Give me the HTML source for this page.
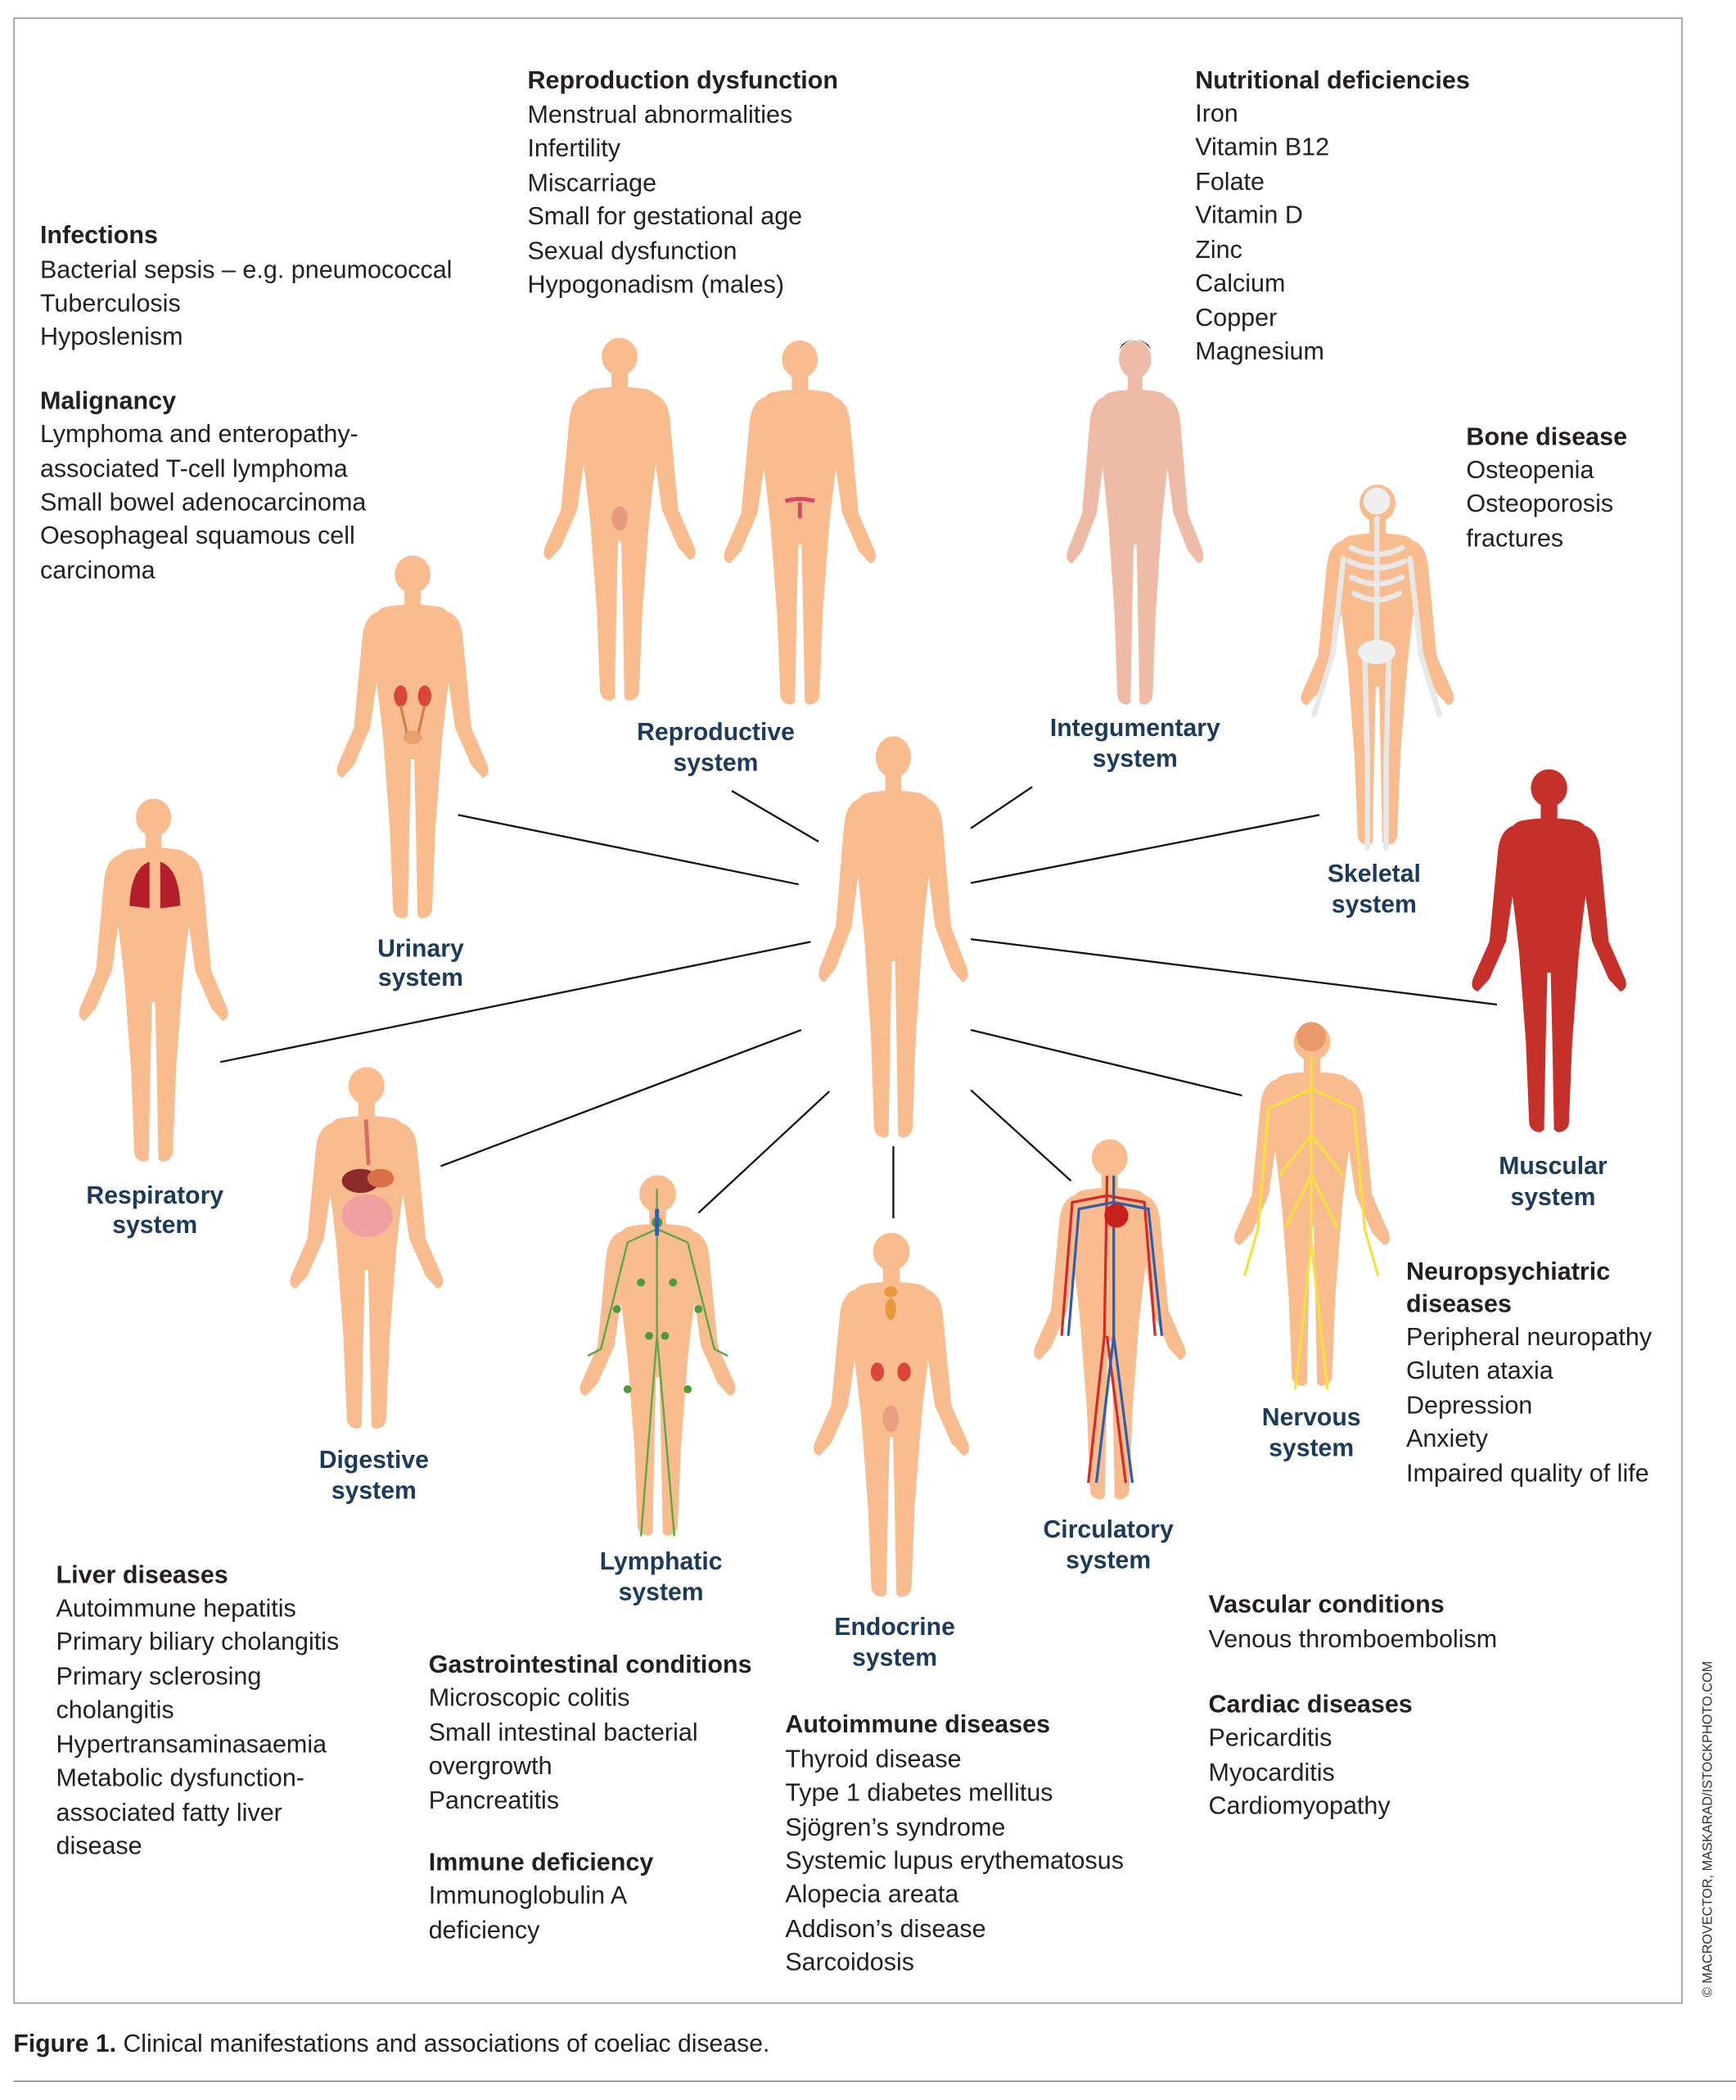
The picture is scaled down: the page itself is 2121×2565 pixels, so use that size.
<!DOCTYPE html>
<html><head><meta charset="utf-8"><style>
html,body{margin:0;padding:0;background:#fff}
svg{display:block}
text{font-family:"Liberation Sans",sans-serif;font-size:18.7px;fill:#231F20}
.h{font-weight:bold}
.l{font-weight:bold;fill:#1B3A5C;text-anchor:middle;font-size:18.5px}
</style></head><body>
<svg width="2121" height="2565" viewBox="0 0 1300 1572" xmlns="http://www.w3.org/2000/svg">
<defs>
<symbol id="h" viewBox="0 0 100 300" preserveAspectRatio="none">
<ellipse cx="50" cy="18" rx="11" ry="15"/>
<rect x="45" y="28" width="10" height="18"/>
<path d="M33,44 Q50,40 67,44 Q74,47 74,58 L72,105 Q70,125 68,150 L64,220 L62,285 Q61,292 55,292 L53,290 L52,220 L51,165 L49,165 L48,220 L47,290 L45,292 Q39,292 38,285 L36,220 L32,150 Q30,125 28,105 L26,58 Q26,47 33,44Z"/>
<path d="M28,48 Q20,52 19,70 L14,140 L4,170 Q2,178 7,180 L14,170 L24,140 L30,85Z"/>
<path d="M72,48 Q80,52 81,70 L86,140 L96,170 Q98,178 93,180 L86,170 L76,140 L70,85Z"/>
</symbol>
</defs>
<rect x="10.5" y="13.5" width="1249" height="1486" fill="none" stroke="#999" stroke-width="1"/>

<g fill="#F9BC8F">
<use href="#h" x="609" y="548" width="120" height="312"/>
<use href="#h" x="248" y="413" width="122" height="282"/>
<use href="#h" x="403" y="250" width="122" height="282"/>
<use href="#h" x="538" y="252" width="122" height="283"/>
<use href="#h" x="970" y="360" width="123" height="280"/>
<use href="#h" x="55" y="595" width="120" height="282"/>
<use href="#h" x="213" y="796" width="123" height="281"/>
<use href="#h" x="430" y="877" width="125" height="280"/>
<use href="#h" x="605" y="920" width="125" height="283"/>
<use href="#h" x="770" y="850" width="122" height="280"/>
<use href="#h" x="920" y="763" width="125" height="282"/>
</g>
<use href="#h" x="795" y="252" width="110" height="283" fill="#EEBCA6"/>
<path d="M838,262 Q850,246 862,262 L860,258 Q850,250 840,258Z" fill="#333"/>
<use href="#h" x="1098" y="573" width="124" height="282" fill="#C6302B"/>
<!-- skeleton -->
<g stroke="#E8E8E8" stroke-width="4" fill="none" stroke-linecap="round">
<circle cx="1031" cy="375" r="10" fill="#F0F0F0" stroke="none"/>
<path d="M1031,388 L1031,480 M1012,410 Q1031,420 1050,410 M1010,420 Q1031,430 1052,420 M1012,432 Q1031,442 1050,432 M1014,444 Q1031,454 1048,444 M1006,418 L998,490 L984,535 M1056,418 L1064,490 L1078,535 M1022,492 L1024,570 L1024,635 M1040,492 L1038,570 L1038,635"/>
<ellipse cx="1031" cy="488" rx="14" ry="9" fill="#F0F0F0" stroke="none"/>
</g>
<!-- lungs -->
<path d="M112,645 Q98,650 97,678 L112,680Z M120,645 Q134,650 135,678 L120,680Z" fill="#B41E2A"/>
<!-- kidneys -->
<g fill="#D9473B"><ellipse cx="300" cy="521" rx="5" ry="8"/><ellipse cx="318" cy="521" rx="5" ry="8"/></g>
<path d="M300,528 L305,550 L313,550 L318,528" stroke="#D08050" fill="none" stroke-width="2"/>
<ellipse cx="309" cy="552" rx="7" ry="5" fill="#E8A070"/>
<!-- reproductive -->
<ellipse cx="464" cy="388" rx="6" ry="9" fill="#E89A80"/>
<path d="M588,375 Q599,372 610,375 M599,376 L599,388" stroke="#D9476A" stroke-width="3" fill="none"/>
<!-- digestive -->
<path d="M274,838 L276,872" stroke="#D96A6A" stroke-width="3"/>
<ellipse cx="270" cy="884" rx="14" ry="9" fill="#8A2A2A"/>
<ellipse cx="285" cy="882" rx="10" ry="7" fill="#D9704A"/>
<ellipse cx="275" cy="910" rx="19" ry="16" fill="#F0A0A0"/>
<!-- lymphatic -->
<g stroke="#5FA84A" stroke-width="1.5" fill="none">
<path d="M492,890 L492,1000 L480,1150 M492,1000 L505,1150 M470,930 L450,1010 L440,1015 M515,930 L535,1010 L545,1015 M492,920 L470,930 M492,920 L515,930"/>
</g>
<g fill="#4E9A3A"><circle cx="492" cy="915" r="4"/><circle cx="480" cy="960" r="3"/><circle cx="504" cy="960" r="3"/><circle cx="486" cy="1000" r="3"/><circle cx="498" cy="1000" r="3"/><circle cx="470" cy="1040" r="3"/><circle cx="515" cy="1040" r="3"/><circle cx="462" cy="980" r="3"/><circle cx="523" cy="980" r="3"/></g>
<path d="M492,905 L492,925" stroke="#2E5FA8" stroke-width="3"/>
<!-- endocrine -->
<g fill="#E89A3A"><ellipse cx="667" cy="967" rx="5" ry="4"/><ellipse cx="667" cy="980" rx="4" ry="8"/></g>
<g fill="#D9473B"><ellipse cx="657" cy="1027" rx="5" ry="7"/><ellipse cx="677" cy="1027" rx="5" ry="7"/></g>
<ellipse cx="667" cy="1062" rx="6" ry="10" fill="#E8A080"/>
<!-- circulatory -->
<g fill="none" stroke-width="2">
<path d="M829,880 L827,1000 L815,1110 M829,1000 L843,1110 M829,895 L803,900 L795,1000 M829,895 L857,900 L865,1000" stroke="#D42A2A"/>
<path d="M834,880 L834,1000 L821,1110 M834,1000 L848,1110 M834,900 L808,905 L800,1000 M834,900 L860,905 L870,1000" stroke="#2E5FA8"/>
</g>
<circle cx="836" cy="910" r="9" fill="#C8201E"/>
<!-- nervous -->
<ellipse cx="982" cy="776" rx="11" ry="11" fill="#E89A6A"/>
<g fill="none" stroke="#F5E040" stroke-width="2">
<path d="M982,790 L982,930 L970,1040 M982,930 L994,1040 M982,815 L950,830 L942,920 L932,955 M982,815 L1014,830 L1022,920 L1032,955 M982,850 L958,880 M982,850 L1006,880 M982,880 L962,920 M982,880 L1002,920"/>
</g>

<g stroke="#111" stroke-width="1.4">
<line x1="343" y1="610" x2="598" y2="662"/>
<line x1="548" y1="592" x2="613" y2="630"/>
<line x1="727" y1="620" x2="773" y2="589"/>
<line x1="727" y1="661" x2="988" y2="610"/>
<line x1="727" y1="703" x2="1121" y2="752"/>
<line x1="727" y1="771" x2="930" y2="820"/>
<line x1="727" y1="816" x2="802" y2="884"/>
<line x1="669" y1="858" x2="669" y2="912"/>
<line x1="621" y1="817" x2="523" y2="908"/>
<line x1="600" y1="771" x2="330" y2="873"/>
<line x1="607" y1="705" x2="165" y2="795"/>
</g>

<text class="l" x="536" y="554">Reproductive</text><text class="l" x="536" y="577">system</text>
<text class="l" x="850" y="551">Integumentary</text><text class="l" x="850" y="574">system</text>
<text class="l" x="315" y="716">Urinary</text><text class="l" x="315" y="738">system</text>
<text class="l" x="1029" y="660">Skeletal</text><text class="l" x="1029" y="683">system</text>
<text class="l" x="116" y="901">Respiratory</text><text class="l" x="116" y="923">system</text>
<text class="l" x="1163" y="879">Muscular</text><text class="l" x="1163" y="902">system</text>
<text class="l" x="280" y="1099">Digestive</text><text class="l" x="280" y="1122">system</text>
<text class="l" x="982" y="1067">Nervous</text><text class="l" x="982" y="1090">system</text>
<text class="l" x="495" y="1175">Lymphatic</text><text class="l" x="495" y="1198">system</text>
<text class="l" x="830" y="1151">Circulatory</text><text class="l" x="830" y="1174">system</text>
<text class="l" x="670" y="1224">Endocrine</text><text class="l" x="670" y="1247">system</text>

<g>
<text class="h" x="30" y="182">Infections</text>
<text x="30" y="208">Bacterial sepsis – e.g. pneumococcal</text>
<text x="30" y="233">Tuberculosis</text>
<text x="30" y="258">Hyposlenism</text>
<text class="h" x="30" y="306">Malignancy</text>
<text x="30" y="331">Lymphoma and enteropathy-</text>
<text x="30" y="357">associated T-cell lymphoma</text>
<text x="30" y="382">Small bowel adenocarcinoma</text>
<text x="30" y="407">Oesophageal squamous cell</text>
<text x="30" y="433">carcinoma</text>

<text class="h" x="395" y="66">Reproduction dysfunction</text>
<text x="395" y="92">Menstrual abnormalities</text>
<text x="395" y="117">Infertility</text>
<text x="395" y="143">Miscarriage</text>
<text x="395" y="168">Small for gestational age</text>
<text x="395" y="194">Sexual dysfunction</text>
<text x="395" y="219">Hypogonadism (males)</text>

<text class="h" x="895" y="66">Nutritional deficiencies</text>
<text x="895" y="91">Iron</text>
<text x="895" y="116">Vitamin B12</text>
<text x="895" y="142">Folate</text>
<text x="895" y="167">Vitamin D</text>
<text x="895" y="193">Zinc</text>
<text x="895" y="218">Calcium</text>
<text x="895" y="244">Copper</text>
<text x="895" y="269">Magnesium</text>

<text class="h" x="1098" y="333">Bone disease</text>
<text x="1098" y="358">Osteopenia</text>
<text x="1098" y="383">Osteoporosis</text>
<text x="1098" y="409">fractures</text>

<text class="h" x="1053" y="958">Neuropsychiatric</text>
<text class="h" x="1053" y="982">diseases</text>
<text x="1053" y="1007">Peripheral neuropathy</text>
<text x="1053" y="1032">Gluten ataxia</text>
<text x="1053" y="1058">Depression</text>
<text x="1053" y="1083">Anxiety</text>
<text x="1053" y="1109">Impaired quality of life</text>

<text class="h" x="42" y="1185">Liver diseases</text>
<text x="42" y="1210">Autoimmune hepatitis</text>
<text x="42" y="1235">Primary biliary cholangitis</text>
<text x="42" y="1261">Primary sclerosing</text>
<text x="42" y="1286">cholangitis</text>
<text x="42" y="1312">Hypertransaminasaemia</text>
<text x="42" y="1337">Metabolic dysfunction-</text>
<text x="42" y="1363">associated fatty liver</text>
<text x="42" y="1388">disease</text>

<text class="h" x="321" y="1252">Gastrointestinal conditions</text>
<text x="321" y="1277">Microscopic colitis</text>
<text x="321" y="1303">Small intestinal bacterial</text>
<text x="321" y="1328">overgrowth</text>
<text x="321" y="1354">Pancreatitis</text>
<text class="h" x="321" y="1400">Immune deficiency</text>
<text x="321" y="1425">Immunoglobulin A</text>
<text x="321" y="1451">deficiency</text>

<text class="h" x="588" y="1297">Autoimmune diseases</text>
<text x="588" y="1323">Thyroid disease</text>
<text x="588" y="1348">Type 1 diabetes mellitus</text>
<text x="588" y="1374">Sjögren’s syndrome</text>
<text x="588" y="1399">Systemic lupus erythematosus</text>
<text x="588" y="1424">Alopecia areata</text>
<text x="588" y="1450">Addison’s disease</text>
<text x="588" y="1475">Sarcoidosis</text>

<text class="h" x="905" y="1207">Vascular conditions</text>
<text x="905" y="1233">Venous thromboembolism</text>
<text class="h" x="905" y="1282">Cardiac diseases</text>
<text x="905" y="1307">Pericarditis</text>
<text x="905" y="1333">Myocarditis</text>
<text x="905" y="1358">Cardiomyopathy</text>
</g>

<text x="1282" y="1495" transform="rotate(-90 1282 1495)" style="font-size:10px;fill:#333">© MACROVECTOR, MASKARAD/ISTOCKPHOTO.COM</text>
<text x="10" y="1536" style="font-size:18.5px"><tspan class="h">Figure 1.</tspan> Clinical manifestations and associations of coeliac disease.</text>
<line x1="10" y1="1558" x2="1300" y2="1558" stroke="#888" stroke-width="1"/>
</svg>
</body></html>
